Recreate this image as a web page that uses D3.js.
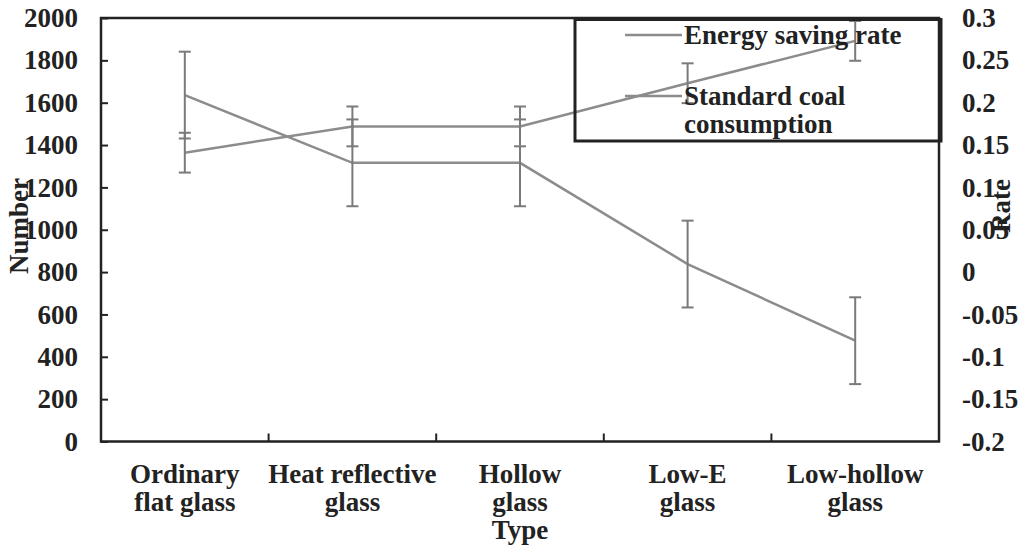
<!DOCTYPE html>
<html>
<head>
<meta charset="utf-8">
<script src="https://cdn.jsdelivr.net/npm/d3@7"></script>
<style>
  html, body { margin: 0; padding: 0; background: #fff; }
  svg text { font-family: "Liberation Serif", "Times New Roman", serif; font-weight: bold; fill: #222; }
</style>
</head>
<body>
<svg id="chart" width="1020" height="548"></svg>
<script>
// ---- data ----
const categories = [
  ["Ordinary", "flat glass"],
  ["Heat reflective", "glass"],
  ["Hollow", "glass"],
  ["Low-E", "glass"],
  ["Low-hollow", "glass"]
];
const coalConsumption = [1636, 1316, 1316, 838, 476];
const coalError = [205, 205, 205, 205, 205];
const savingRate = [0.141, 0.172, 0.172, 0.223, 0.273];
const rateError = [0.0235, 0.0235, 0.0235, 0.0235, 0.0235];
const leftTicks = [0, 200, 400, 600, 800, 1000, 1200, 1400, 1600, 1800, 2000];
const rightTickLabels = ["-0.2", "-0.15", "-0.1", "-0.05", "0", "0.05", "0.1", "0.15", "0.2", "0.25", "0.3"];
const seriesNames = ["Energy saving rate", ["Standard coal", "consumption"]];
const xTitle = "Type", yLeftTitle = "Number", yRightTitle = "Rate";

// ---- layout ----
const svg = d3.select("#chart");
const L = 101, R = 939, T = 18, B = 441.5;
const FS = 27;
const lineColor = "#8c8c8c", barColor = "#7a7a7a", frameColor = "#222";

const x = d3.scaleBand().domain(d3.range(categories.length)).range([L, R]).padding(0);
const yL = d3.scaleLinear().domain([0, 2000]).range([B, T]);
const yR = d3.scaleLinear().domain([-0.2, 0.3]).range([B, T]);
const cx = i => x(i) + x.bandwidth() / 2;

// left axis
const gL = svg.append("g").attr("transform", `translate(${L},0)`)
  .call(d3.axisLeft(yL).tickValues(leftTicks).tickFormat(d3.format("d"))
    .tickSizeInner(-7).tickSizeOuter(0).tickPadding(23));
gL.select(".domain").remove();
gL.selectAll("line").attr("stroke", frameColor).attr("stroke-width", 2);
gL.selectAll("text").attr("font-size", FS).attr("font-family", null).attr("fill", "#222");

// right axis
const gR = svg.append("g").attr("transform", `translate(${R},0)`)
  .call(d3.axisRight(yR).tickValues(rightTickLabels.map(Number))
    .tickFormat((d, i) => rightTickLabels[i]).tickSize(0).tickPadding(23));
gR.select(".domain").remove();
gR.selectAll("text").attr("font-size", FS).attr("font-family", null).attr("fill", "#222");

// bottom ticks (band boundaries), pointing up
svg.append("g").selectAll("line").data(d3.range(1, categories.length)).join("line")
  .attr("x1", i => x(i)).attr("x2", i => x(i))
  .attr("y1", B).attr("y2", B - 8)
  .attr("stroke", frameColor).attr("stroke-width", 2);

// frame
svg.append("rect").attr("x", L).attr("y", T).attr("width", R - L).attr("height", B - T)
  .attr("fill", "none").attr("stroke", frameColor).attr("stroke-width", 2.5);

// category labels
const catG = svg.append("g");
categories.forEach((lines, i) => {
  const t = catG.append("text").attr("text-anchor", "middle").attr("font-size", FS);
  lines.forEach((s, k) => t.append("tspan").attr("x", cx(i)).attr("y", 483 + k * 28).text(s));
});

// axis titles
svg.append("text").attr("x", cx(2)).attr("y", 539).attr("text-anchor", "middle")
  .attr("font-size", FS).text(xTitle);
svg.append("text").attr("transform", `translate(28,226) rotate(-90)`)
  .attr("text-anchor", "middle").attr("font-size", FS).text(yLeftTitle);
svg.append("text").attr("transform", `translate(1010,206) rotate(-90)`)
  .attr("text-anchor", "middle").attr("font-size", FS).text(yRightTitle);

// series lines
const lineGen = y => d3.line().x((d, i) => cx(i)).y(d => y(d));
svg.append("path").datum(coalConsumption).attr("d", lineGen(yL))
  .attr("fill", "none").attr("stroke", lineColor).attr("stroke-width", 2.5);
svg.append("path").datum(savingRate).attr("d", lineGen(yR))
  .attr("fill", "none").attr("stroke", lineColor).attr("stroke-width", 2.5);

// error bars
function errorBars(vals, errs, y) {
  const g = svg.append("g").attr("stroke", barColor).attr("stroke-width", 2);
  vals.forEach((v, i) => {
    const x0 = cx(i), y1 = y(v + errs[i]), y2 = y(v - errs[i]);
    g.append("line").attr("x1", x0).attr("x2", x0).attr("y1", y1).attr("y2", y2);
    g.append("line").attr("x1", x0 - 6).attr("x2", x0 + 6).attr("y1", y1).attr("y2", y1);
    g.append("line").attr("x1", x0 - 6).attr("x2", x0 + 6).attr("y1", y2).attr("y2", y2);
  });
}
errorBars(coalConsumption, coalError, yL);
errorBars(savingRate, rateError, yR);

// legend
const lg = svg.append("g");
lg.append("rect").attr("x", 575).attr("y", 19.5).attr("width", 366).attr("height", 121.5)
  .attr("fill", "none").attr("stroke", frameColor).attr("stroke-width", 3);
[35, 96].forEach((yy, k) => {
  lg.append("line").attr("x1", 625).attr("x2", 682).attr("y1", yy).attr("y2", yy)
    .attr("stroke", lineColor).attr("stroke-width", 2.5);
});
lg.append("text").attr("x", 684).attr("y", 44).attr("font-size", FS).text(seriesNames[0]);
const t2 = lg.append("text").attr("font-size", FS);
seriesNames[1].forEach((s, k) => t2.append("tspan").attr("x", 684).attr("y", 105 + k * 28).text(s));
</script>
</body>
</html>
